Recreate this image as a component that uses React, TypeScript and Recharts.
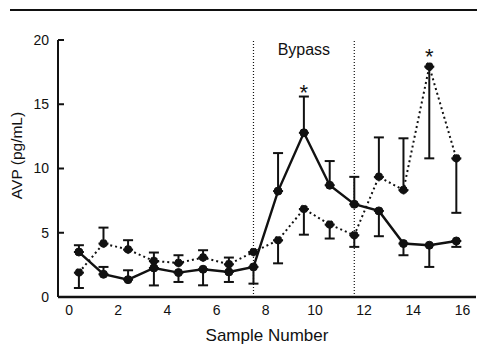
import React from 'react';
import { LineChart, Line, XAxis, YAxis, ErrorBar, ReferenceLine, ReferenceArea, ReferenceDot, Label } from 'recharts';

const sampleX = [0.4, 1.4, 2.4, 3.45, 4.45, 5.45, 6.5, 7.5, 8.5, 9.55, 10.6, 11.6, 12.6, 13.6, 14.65, 15.75];
const solidValues = [3.5, 1.77, 1.35, 2.26, 1.9, 2.16, 1.95, 2.34, 8.24, 12.78, 8.7, 7.22, 6.7, 4.16, 4.03, 4.36];
const solidErrLow = [0, 0, 0, 1.36, 0.73, 1.25, 0.78, 1.3, 0, 0, 0, 0, 1.97, 0.91, 1.69, 0.46];
const solidErrHigh = [0.53, 0.57, 0.73, 0, 0, 0, 0, 0, 2.96, 2.82, 1.88, 2.13, 0, 0, 0, 0];
const dottedValues = [1.9, 4.16, 3.69, 2.8, 2.65, 3.07, 2.55, 3.5, 4.42, 6.85, 5.64, 4.81, 9.35, 8.32, 17.93, 10.79];
const dottedErrLow = [1.2, 0, 0, 0, 0, 0, 0, 0, 1.8, 2.0, 1.09, 0.91, 0, 0, 7.14, 4.24];
const dottedErrHigh = [0, 1.24, 0.73, 0.66, 0.6, 0.57, 0.52, 0, 0, 0, 0, 0, 3.07, 4.03, 0, 0];

const xLabelTicks = [0, 2, 4, 6, 8, 10, 12, 14, 16];
const yTicks = [0, 5, 10, 15, 20];
const bypassStart = 7.5;
const bypassEnd = 11.6;
const starX = [9.55, 14.65];
const starY = [15.9, 18.75];

const data = sampleX.map((x, i) => ({
  x,
  solid: solidValues[i],
  solidErr: [solidErrLow[i], solidErrHigh[i]],
  dotted: dottedValues[i],
  dottedErr: [dottedErrLow[i], dottedErrHigh[i]],
}));

const INK = '#111';
const FONT = '"Liberation Sans", Arial, sans-serif';

export default function App() {
  return (
    <div style={{ position: 'absolute', left: 0, top: 0, width: 477, height: 346, background: '#fff' }}>
      <div style={{ position: 'absolute', left: 10, top: 9, width: 467, height: 2, background: INK }} />
      <LineChart
        width={477}
        height={346}
        data={data}
        margin={{ top: 40, right: 1, left: 18, bottom: 0 }}
        style={{ fontFamily: FONT }}
      >
        <XAxis
          xAxisId="pts"
          dataKey="x"
          type="number"
          domain={[-0.45, 16.55]}
          ticks={sampleX}
          mirror
          tick={false}
          tickSize={7}
          axisLine={false}
          tickLine={{ stroke: INK, strokeWidth: 2 }}
          height={10}
        />
        <XAxis
          dataKey="x"
          type="number"
          domain={[-0.45, 16.55]}
          ticks={xLabelTicks}
          interval={0}
          tickLine={false}
          axisLine={{ stroke: INK, strokeWidth: 2.5 }}
          tick={{ fontSize: 14, fill: INK, fontFamily: FONT }}
          height={49}
          label={{ value: 'Sample Number', position: 'insideBottom', offset: 5, fontSize: 17, fill: INK, fontFamily: FONT }}
        />
        <YAxis
          type="number"
          domain={[0, 20]}
          ticks={yTicks}
          interval={0}
          width={40}
          tickSize={-6}
          tickMargin={15}
          axisLine={{ stroke: INK, strokeWidth: 2 }}
          tickLine={{ stroke: INK, strokeWidth: 2 }}
          tick={{ fontSize: 14, fill: INK, fontFamily: FONT }}
          label={{ value: 'AVP (pg/mL)', angle: -90, position: 'center', dx: -22, dy: -13, fontSize: 15.5, fill: INK, fontFamily: FONT }}
        />
        <ReferenceLine x={bypassStart} stroke={INK} strokeWidth={1.2} strokeDasharray="1 2" />
        <ReferenceLine x={bypassEnd} stroke={INK} strokeWidth={1.2} strokeDasharray="1 2" />
        <ReferenceArea
          x1={bypassStart}
          x2={bypassEnd}
          fill="none"
          fillOpacity={0}
          stroke="none"
          label={{ value: 'Bypass', position: 'insideTop', offset: 3.5, fontSize: 16, fill: INK, fontFamily: FONT }}
        />
        <Line
          type="linear"
          dataKey="dotted"
          stroke={INK}
          strokeWidth={2}
          strokeDasharray="2 3"
          dot={{ r: 4, fill: INK, stroke: INK, strokeWidth: 1 }}
          isAnimationActive={false}
        >
          <ErrorBar dataKey="dottedErr" direction="y" width={5} stroke={INK} strokeWidth={2} />
        </Line>
        <Line
          type="linear"
          dataKey="solid"
          stroke={INK}
          strokeWidth={2.4}
          dot={{ r: 4, fill: INK, stroke: INK, strokeWidth: 1 }}
          isAnimationActive={false}
        >
          <ErrorBar dataKey="solidErr" direction="y" width={5} stroke={INK} strokeWidth={2} />
        </Line>
        {starX.map((sx, i) => (
          <ReferenceDot key={i} x={sx} y={starY[i]} r={0} fill={INK} stroke="none">
            <Label value="*" position="center" fontSize={22} fill={INK} stroke="none" fontFamily={FONT} />
          </ReferenceDot>
        ))}
      </LineChart>
    </div>
  );
}
